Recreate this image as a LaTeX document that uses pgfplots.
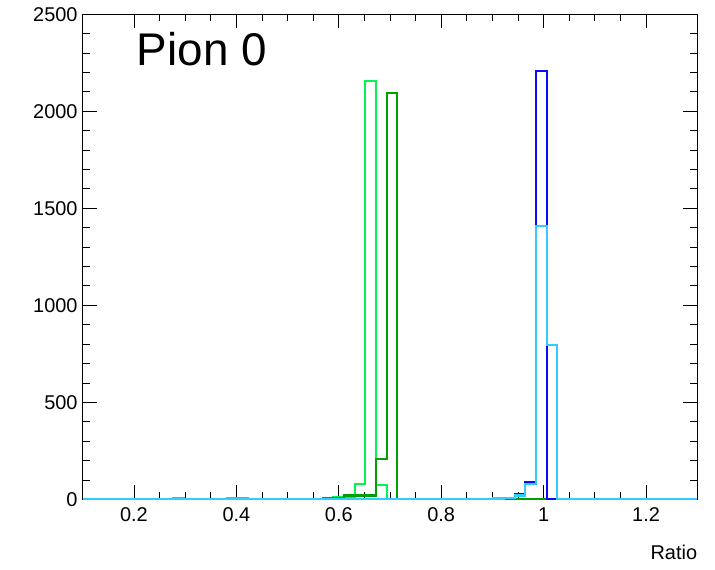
\documentclass[border=0pt]{standalone}
\usepackage{fontspec}
\setmainfont{Liberation Sans}
\usepackage{pgfplots}
\pgfplotsset{compat=1.18}
\definecolor{rootlightgreen}{RGB}{0,245,80}
\definecolor{rootdarkgreen}{RGB}{0,160,0}
\definecolor{rootblue}{RGB}{10,10,255}
\definecolor{rootcyan}{RGB}{51,204,255}
\begin{document}
\begin{tikzpicture}
\begin{axis}[
  scale only axis, width=614.6bp, height=485bp,
  xmin=0.1, xmax=1.3, ymin=0, ymax=2500,
  xtick={0.2,0.4,0.6,0.8,1.0,1.2},
  ytick={0,500,1000,1500,2000,2500},
  minor x tick num=3, minor y tick num=4,
  tick align=inside, tick pos=both,
  major tick length=14bp, minor tick length=7bp,
  tick style={black, line width=0.8bp},
  axis line style={black, line width=0.8bp},
  ticklabel style={font=\fontsize{20}{20}\selectfont},
  /pgf/number format/assume math mode=true,
  /pgf/number format/1000 sep={},
  xticklabel style={anchor=north, inner sep=0pt, yshift=-8bp},
  yticklabel style={anchor=east, inner sep=0pt, xshift=-5bp},
  xlabel={Ratio},
  xlabel style={at={(rel axis cs:1,0)}, anchor=north east, inner sep=0pt, yshift=-46bp, font=\fontsize{20}{20}\selectfont},
  axis on top=false,
]
\addplot[const plot, no marks, line width=2.2bp, color=rootlightgreen] coordinates {
 (0.1,0) (0.2768,5) (0.2977,0) (0.3810,4) (0.4227,0) (0.5893,10) (0.6310,79)
 (0.6518,2156) (0.6727,74) (0.6935,0) (1.3,0)};
\addplot[const plot, no marks, line width=2.2bp, color=rootdarkgreen] coordinates {
 (0.1,0) (0.2977,3) (0.3393,0) (0.5685,4) (0.6102,20) (0.6727,206)
 (0.6935,2093) (0.7143,0) (0.8602,3) (0.9852,0) (1.3,0)};
\addplot[const plot, no marks, line width=2.2bp, color=rootblue] coordinates {
 (0.1,0) (0.4643,2) (0.5060,0) (0.7143,2) (0.7352,0) (0.9227,6) (0.9435,25) (0.9643,90)
 (0.9852,2209) (1.0060,3) (1.0477,0) (1.3,0)};
\addplot[const plot, no marks, line width=2.2bp, color=rootcyan] coordinates {
 (0.1,0) (0.9018,4) (0.9227,8) (0.9435,20) (0.9643,80)
 (0.9852,1410) (1.0060,794) (1.0268,0) (1.3,0)};
\node[anchor=base west, inner sep=0pt, font=\fontsize{46}{46}\selectfont] at (rel axis cs:0.088,0.894) {Pion 0};
\end{axis}
\pgfresetboundingbox
\path ([shift={(-82.7bp,-70.7bp)}]current axis.south west) rectangle ([shift={(17.7bp,14.3bp)}]current axis.north east);
\end{tikzpicture}
\end{document}
